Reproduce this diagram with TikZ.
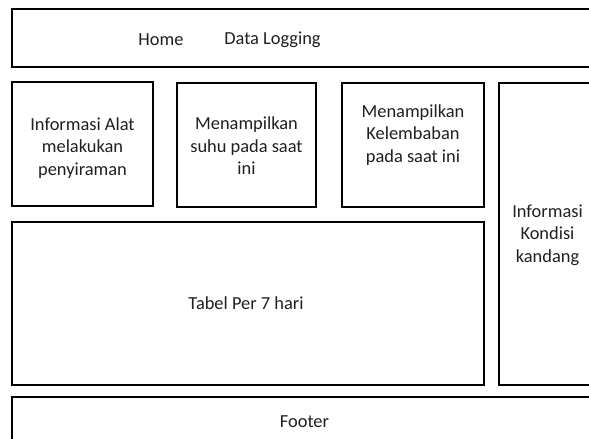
\documentclass[tikz,border=0pt]{standalone}
\usepackage{fontspec}
\setmainfont{Carlito}
\begin{document}
\begin{tikzpicture}[x=1pt,y=-1pt,
  box/.style={draw=black, line width=1.6pt, inner sep=0pt, outer sep=0pt},
  lbl/.style={align=center, inner sep=0pt, text=black!88, font=\fontsize{18.4}{22.5}\selectfont}]
\useasboundingbox (0,0) rectangle (589,439);
\clip (0,0) rectangle (589,439);
% boxes
\node[box, minimum width=585pt, minimum height=58pt] (top) at (304.5,38) {};
\node[box, minimum width=141pt, minimum height=124pt] (alat) at (82.5,144) {};
\node[box, minimum width=139pt, minimum height=124pt] (suhu) at (246.5,145) {};
\node[box, minimum width=142pt, minimum height=124pt] (lembab) at (413,145) {};
\node[box, minimum width=97pt, minimum height=302pt] (kondisi) at (547.5,234) {};
\node[box, minimum width=472pt, minimum height=163pt] (tabel) at (248,303.5) {};
\node[box, minimum width=585pt, minimum height=49pt] (footer) at (304.5,421.5) {};
% labels
\node[lbl] (home) at (161,40) {Home};
\node[lbl] (datalog) at (272.5,40) {Data Logging};
\node[lbl] (talat) at (82.5,148) {Informasi Alat\\melakukan\\penyiraman};
\node[lbl] (tsuhu) at (246.5,146) {Menampilkan\\suhu pada saat\\ini};
\node[lbl] (tlembab) at (413,135) {Menampilkan\\Kelembaban\\pada saat ini};
\node[lbl] (tkondisi) at (547.5,235) {Informasi\\Kondisi\\kandang};
\node[lbl] (ttabel) at (246,303) {Tabel Per 7 hari};
\node[lbl] (tfooter) at (304.5,421.5) {Footer};
\end{tikzpicture}
\end{document}
